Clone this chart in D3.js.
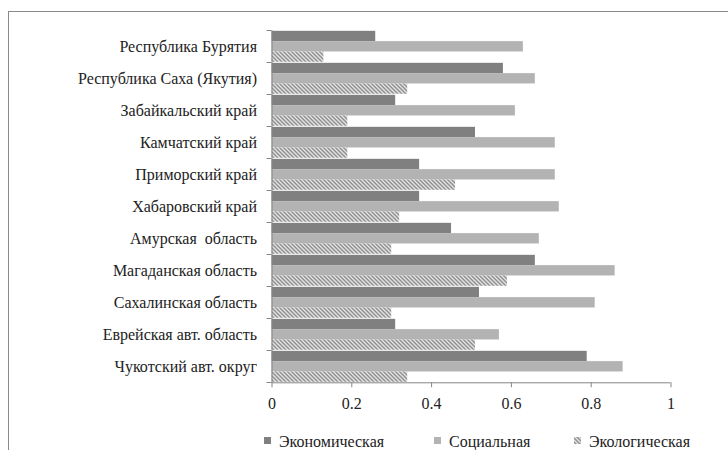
<!DOCTYPE html>
<html><head><meta charset="utf-8">
<script src="https://cdn.jsdelivr.net/npm/d3@7"></script>
<style>body{margin:0;background:#fff}svg{display:block}</style>
</head><body><div id="chart"></div>
<script>
const categories = ["Республика Бурятия","Республика Саха (Якутия)","Забайкальский край","Камчатский край","Приморский край","Хабаровский край","Амурская  область","Магаданская область","Сахалинская область","Еврейская авт. область","Чукотский авт. округ"];
const seriesNames = ["Экономическая","Социальная","Экологическая"];
const economic = [0.26,0.58,0.31,0.51,0.37,0.37,0.45,0.66,0.52,0.31,0.79];
const social   = [0.63,0.66,0.61,0.71,0.71,0.72,0.67,0.86,0.81,0.57,0.88];
const ecological=[0.13,0.34,0.19,0.19,0.46,0.32,0.30,0.59,0.30,0.51,0.34];
const xTicks = [0,0.2,0.4,0.6,0.8,1];

const FONT="'Liberation Serif', 'Times New Roman', serif";
const W=728,H=450;
const svg=d3.select("#chart").append("svg").attr("width",W).attr("height",H);
const defs=svg.append("defs");
const pat=defs.append("pattern").attr("id","hatch").attr("patternUnits","userSpaceOnUse").attr("width",4).attr("height",4);
pat.append("rect").attr("width",4).attr("height",4).attr("fill","#e2e2e2");
pat.append("path").attr("d","M-1,3 l2,2 M0,0 l4,4 M3,-1 l2,2").attr("stroke","#8f8f8f").attr("stroke-width",1.4);

svg.append("rect").attr("x",8.5).attr("y",11.5).attr("width",740).attr("height",460).attr("fill","none").attr("stroke","#8a8a8a");

const m={left:271.5,right:670.5,top:30.3,bottom:382.3};
const x=d3.scaleLinear().domain([0,1]).range([m.left,m.right]);
const y=d3.scaleBand().domain(categories).range([m.top,m.bottom]).paddingInner(0).paddingOuter(0);
const inner=d3.scaleBand().domain([0,1,2]).range([0,y.bandwidth()]).paddingOuter(0.05).paddingInner(0);
const fills=["#808080","#b3b3b3","url(#hatch)"];
const data=[economic,social,ecological];

const g=svg.append("g");
data.forEach((arr,si)=>{
  g.selectAll(null).data(categories).enter().append("rect")
   .attr("x",x(0)).attr("y",(c)=>y(c)+inner(si))
   .attr("width",(c,i)=>x(arr[i])-x(0)).attr("height",inner.bandwidth())
   .attr("fill",fills[si]);
});

// x axis
const xa=svg.append("g").attr("transform",`translate(0,${m.bottom})`)
 .call(d3.axisBottom(x).tickValues(xTicks).tickSize(5).tickPadding(10).tickFormat(d=>String(d)));
xa.attr("font-family",null).attr("font-size",null);
xa.select(".domain").attr("stroke","#868686").attr("d",`M${m.left},0.5H${m.right}`);
xa.selectAll(".tick line").attr("stroke","#868686");
xa.selectAll("text").style("font-family",FONT).style("font-size","16px").attr("fill","#222");

// y axis
const ya=svg.append("g").attr("transform",`translate(${m.left},0)`);
ya.append("line").attr("x1",0.5).attr("x2",0.5).attr("y1",m.top).attr("y2",m.bottom).attr("stroke","#868686");
const bounds=categories.map(c=>y(c)).concat([m.bottom]);
ya.selectAll(".tk").data(bounds).enter().append("line").attr("x1",-5).attr("x2",0).attr("y1",d=>Math.round(d)+0.5).attr("y2",d=>Math.round(d)+0.5).attr("stroke","#868686");
ya.selectAll(".lbl").data(categories).enter().append("text")
 .attr("x",257-m.left).attr("y",c=>y(c)+y.bandwidth()/2).attr("dy","0.35em")
 .attr("text-anchor","end").style("font-family",FONT).style("font-size","16px").style("white-space","pre").attr("fill","#222").text(d=>d);

// legend
const legX=[264,434,574];
const leg=svg.append("g");
seriesNames.forEach((n,i)=>{
  leg.append("rect").attr("x",legX[i]).attr("y",437).attr("width",7).attr("height",7).attr("fill",fills[i]);
  leg.append("text").attr("x",legX[i]+15).attr("y",441).attr("dy","0.35em").style("font-family",FONT).style("font-size","16px").attr("fill","#222").text(n);
});
</script></body></html>
